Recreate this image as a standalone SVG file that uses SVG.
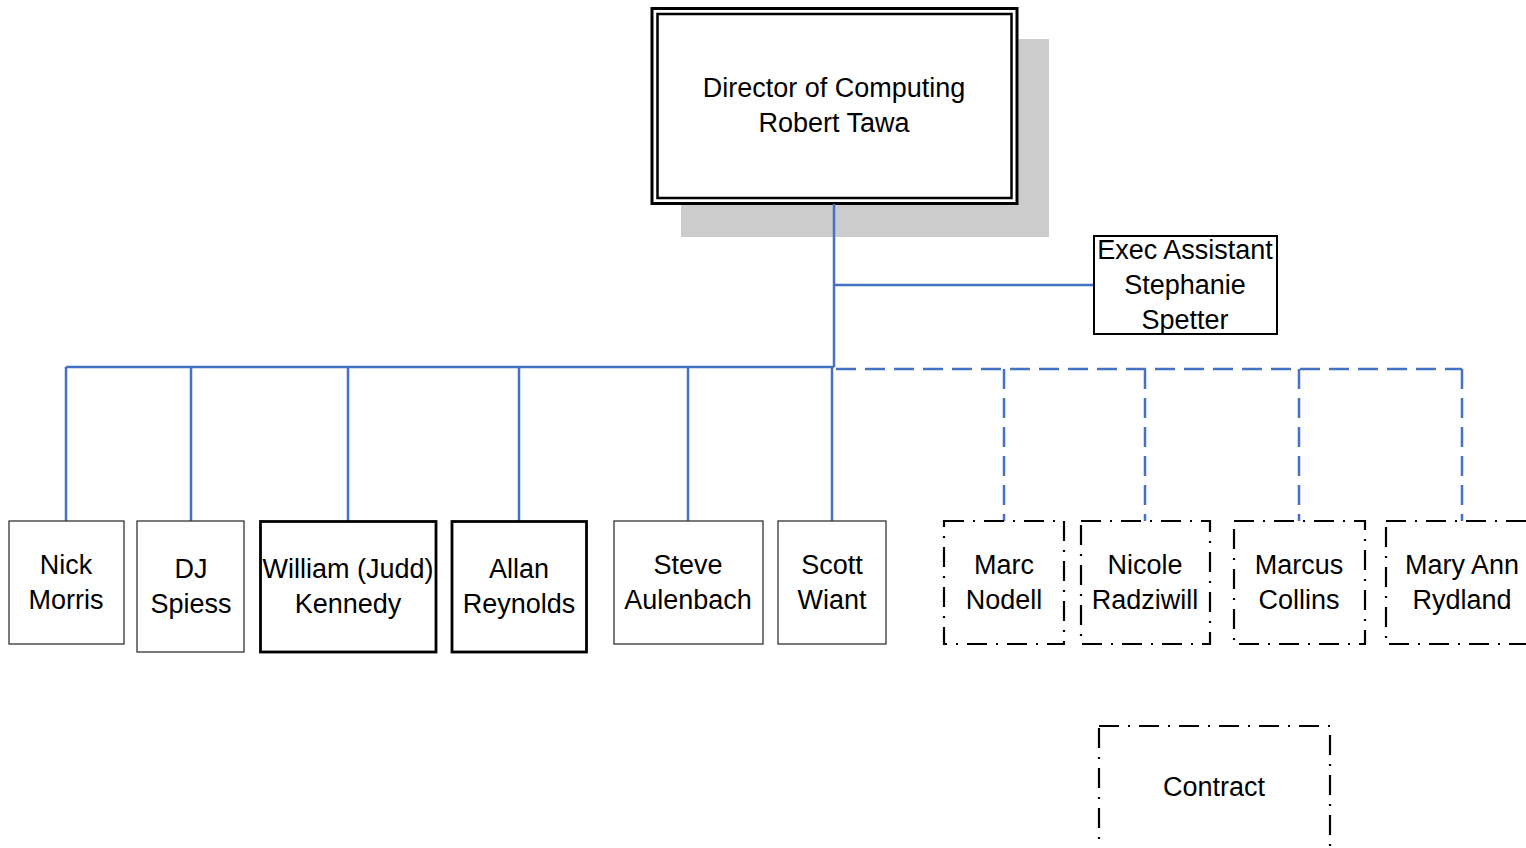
<svg xmlns="http://www.w3.org/2000/svg" width="1526" height="848" viewBox="0 0 1526 848">
  <style>
    text { font-family: "Liberation Sans", Arial, sans-serif; font-size: 27px; fill: #000; text-anchor: middle; }
    .thin { fill: #fff; stroke: #333; stroke-width: 1.3; }
    .thick { fill: #fff; stroke: #000; stroke-width: 2.8; }
    .dashdot { fill: #fff; stroke: #000; stroke-width: 2.2; stroke-dasharray: 20 9 2 9; }
    .link { fill: none; stroke: #4472c4; stroke-width: 2.5; }
    .link-dashed { fill: none; stroke: #4472c4; stroke-width: 2.5; stroke-dasharray: 20 9; }
  </style>

  <g id="director">
    <rect x="681" y="39" width="368" height="198" fill="#cccccc"/>
    <rect x="652" y="8.5" width="365" height="195" fill="#fff" stroke="#000" stroke-width="3"/>
    <rect x="657.5" y="14" width="354" height="184" fill="none" stroke="#000" stroke-width="2.5"/>
    <text x="834" y="97">Director of Computing</text>
    <text x="834" y="132">Robert Tawa</text>
  </g>

  <!-- reporting lines -->
  <g id="connectors">
    <path class="link" d="M834,204 V367"/>
    <path class="link" d="M834,285 H1094"/>
    <path class="link" d="M66,367 H834"/>
    <path class="link" d="M66,367 V521 M191,367 V521 M348,367 V521 M519,367 V521 M688,367 V521 M832,367 V521"/>
    <path class="link-dashed" d="M836,369 H1462"/>
    <path class="link-dashed" d="M1004,369 V521 M1145,369 V521 M1299,369 V521 M1462,369 V521"/>
  </g>

  <g id="exec-assistant">
    <rect x="1094" y="236" width="183" height="98" fill="#fff" stroke="#000" stroke-width="2"/>
    <text x="1185" y="259">Exec Assistant</text>
    <text x="1185" y="294">Stephanie</text>
    <text x="1185" y="329">Spetter</text>
  </g>

  <g id="nick-morris">
    <rect class="thin" x="9" y="521" width="115" height="123"/>
    <text x="66" y="574">Nick</text>
    <text x="66" y="609">Morris</text>
  </g>

  <g id="dj-spiess">
    <rect class="thin" x="137" y="521" width="107" height="131"/>
    <text x="191" y="578">DJ</text>
    <text x="191" y="613">Spiess</text>
  </g>

  <g id="william-kennedy">
    <rect class="thick" x="260.5" y="521.5" width="175.5" height="130.5"/>
    <text x="348" y="578">William (Judd)</text>
    <text x="348" y="613">Kennedy</text>
  </g>

  <g id="allan-reynolds">
    <rect class="thick" x="452" y="521.5" width="134.5" height="130.5"/>
    <text x="519" y="578">Allan</text>
    <text x="519" y="613">Reynolds</text>
  </g>

  <g id="steve-aulenbach">
    <rect class="thin" x="614" y="521" width="149" height="123"/>
    <text x="688" y="574">Steve</text>
    <text x="688" y="609">Aulenbach</text>
  </g>

  <g id="scott-wiant">
    <rect class="thin" x="778" y="521" width="108" height="123"/>
    <text x="832" y="574">Scott</text>
    <text x="832" y="609">Wiant</text>
  </g>

  <g id="marc-nodell">
    <rect class="dashdot" x="944" y="521" width="120" height="123"/>
    <text x="1004" y="574">Marc</text>
    <text x="1004" y="609">Nodell</text>
  </g>

  <g id="nicole-radziwill">
    <rect class="dashdot" x="1081" y="521" width="129" height="123"/>
    <text x="1145" y="574">Nicole</text>
    <text x="1145" y="609">Radziwill</text>
  </g>

  <g id="marcus-collins">
    <rect class="dashdot" x="1234" y="521" width="131" height="123"/>
    <text x="1299" y="574">Marcus</text>
    <text x="1299" y="609">Collins</text>
  </g>

  <g id="mary-ann-rydland">
    <rect class="dashdot" x="1386" y="521" width="150" height="123"/>
    <text x="1462" y="574">Mary Ann</text>
    <text x="1462" y="609">Rydland</text>
  </g>

  <g id="contract">
    <rect class="dashdot" x="1099" y="726" width="231" height="140"/>
    <text x="1214" y="796">Contract</text>
  </g>
</svg>
